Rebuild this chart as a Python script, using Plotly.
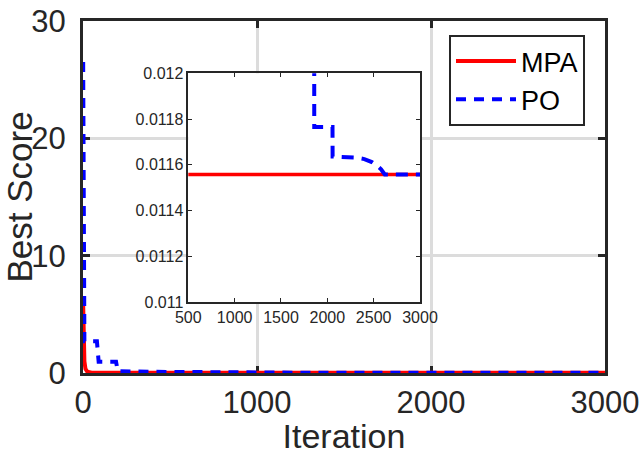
import plotly.graph_objects as go

# ---- data ----
mpa_iter = [1, 4, 8, 14, 25, 50, 120, 500, 3000]
mpa_score = [5.8, 3.0, 1.0, 0.35, 0.1, 0.03, 0.011558, 0.011558, 0.011558]

po_iter = [1, 8, 80, 90, 190, 200, 400, 700, 1000, 1400, 1858, 1859, 2056, 2057,
           2210, 2300, 2400, 2480, 2540, 2580, 2620, 3000]
po_score = [26.5, 2.7, 2.7, 0.95, 0.95, 0.15, 0.1, 0.06, 0.03, 0.014, 0.0125,
            0.011765, 0.011765, 0.011636, 0.011636, 0.011632, 0.011625, 0.011612,
            0.011595, 0.01158, 0.011558, 0.011558]

main_xticks = [0, 1000, 2000, 3000]
main_yticks = [0, 10, 20, 30]
inset_xticks = [500, 1000, 1500, 2000, 2500, 3000]
inset_yticks = [0.011, 0.0112, 0.0114, 0.0116, 0.0118, 0.012]
inset_ytext = ["0.011", "0.0112", "0.0114", "0.0116", "0.0118", "0.012"]

RED = "#ff0000"
BLUE = "#0000ff"
DARK = "#262626"
FONT = "Liberation Sans, Arial, sans-serif"

fig = go.Figure()

# main traces
fig.add_trace(go.Scatter(x=mpa_iter, y=mpa_score, mode="lines", name="MPA",
                         line=dict(color=RED, width=4), xaxis="x", yaxis="y"))
fig.add_trace(go.Scatter(x=po_iter, y=po_score, mode="lines", name="PO",
                         line=dict(color=BLUE, width=4, dash="10px,8px"),
                         xaxis="x", yaxis="y"))
# inset traces
fig.add_trace(go.Scatter(x=mpa_iter, y=mpa_score, mode="lines", name="MPA",
                         line=dict(color=RED, width=3.5), xaxis="x2", yaxis="y2",
                         showlegend=False))
fig.add_trace(go.Scatter(x=po_iter, y=po_score, mode="lines", name="PO",
                         line=dict(color=BLUE, width=4, dash="12px,8px"),
                         xaxis="x2", yaxis="y2", showlegend=False))

L, R, T, B = 83, 605, 21, 373
W, H = 640, 455
pw, ph = R - L, B - T

def fx(px):
    return (px - L) / pw

def fy(py):
    return (B - py) / ph

fig.update_layout(
    width=W, height=H,
    margin=dict(l=L, r=W - R, t=T, b=H - B, autoexpand=False),
    paper_bgcolor="white", plot_bgcolor="white",
    font=dict(family=FONT, color=DARK),
    showlegend=True,
    legend=dict(x=fx(449), y=fy(35), xanchor="left", yanchor="top",
                bgcolor="white", bordercolor=DARK, borderwidth=2,
                font=dict(size=27, family=FONT, color="black"),
                itemwidth=60, tracegroupgap=0),
    xaxis=dict(domain=[0, 1], range=[0, 3000], tickvals=main_xticks,
               showgrid=True, gridcolor="#dcdcdc", gridwidth=3,
               showline=True, linecolor=DARK, linewidth=3, mirror="ticks",
               ticks="inside", ticklen=7, tickwidth=3, tickcolor=DARK,
               tickfont=dict(size=31, family=FONT, color=DARK),
               zeroline=False, layer="below traces", automargin=False,
               title=dict(text="Iteration", font=dict(size=34, family=FONT, color=DARK),
                          standoff=2)),
    yaxis=dict(domain=[0, 1], range=[0, 30], tickvals=main_yticks,
               showgrid=True, gridcolor="#dcdcdc", gridwidth=3,
               showline=True, linecolor=DARK, linewidth=3, mirror="ticks",
               ticks="inside", ticklen=7, tickwidth=3, tickcolor=DARK,
               tickfont=dict(size=31, family=FONT, color=DARK),
               ticklabelstandoff=8, automargin=False,
               zeroline=False, layer="below traces",
               title=dict(text="Best Score", font=dict(size=35, family=FONT, color=DARK),
                          standoff=0)),
    xaxis2=dict(domain=[fx(188.3), fx(420)], range=[500, 3000], anchor="y2",
                tickvals=inset_xticks, showgrid=False, zeroline=False, automargin=False,
                showline=True, linecolor=DARK, linewidth=1.5, mirror="ticks",
                ticks="inside", ticklen=4, tickwidth=1, tickcolor=DARK,
                tickfont=dict(size=16, family=FONT, color=DARK)),
    yaxis2=dict(domain=[fy(302), fy(73.3)], range=[0.011, 0.012], anchor="x2",
                tickvals=inset_yticks, ticktext=inset_ytext, showgrid=False, zeroline=False,
                automargin=False,
                showline=True, linecolor=DARK, linewidth=1.5, mirror="ticks",
                ticks="inside", ticklen=4, tickwidth=1, tickcolor=DARK,
                tickfont=dict(size=16, family=FONT, color=DARK)),
)

fig.write_html("out.html")
